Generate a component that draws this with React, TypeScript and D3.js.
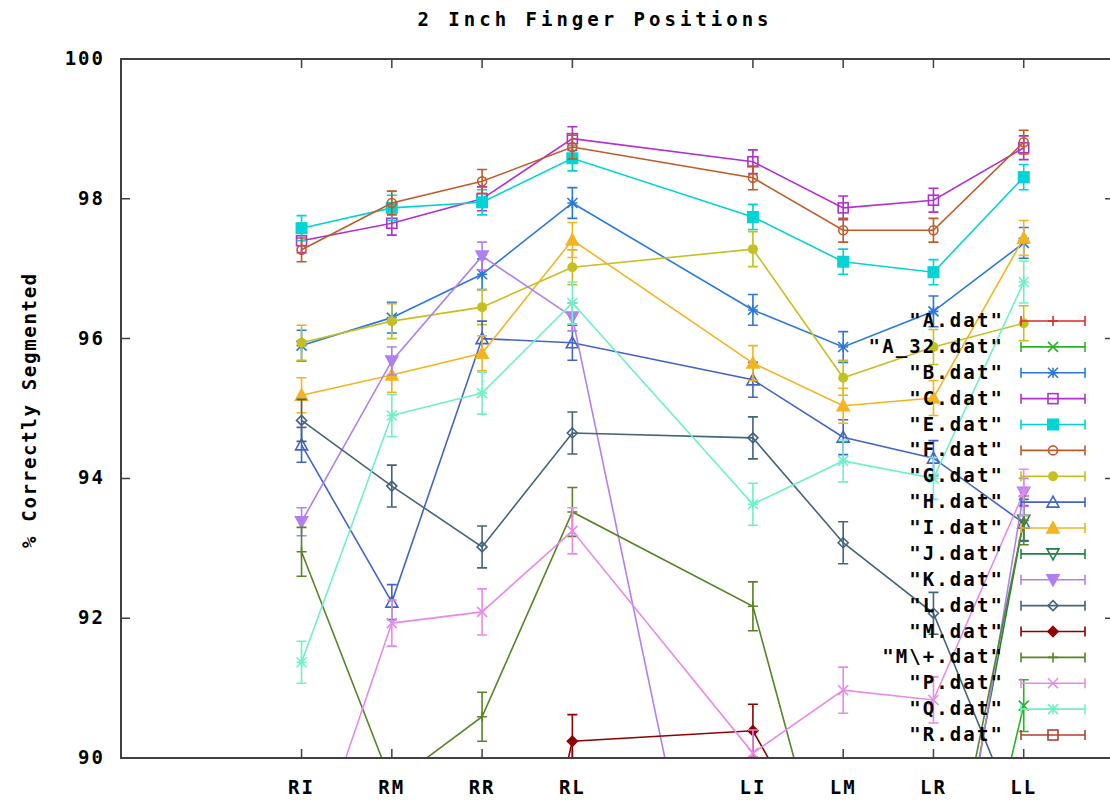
import React from 'react';
import * as d3 from 'd3';

// finger positions along the x axis
const positions = ['RI', 'RM', 'RR', 'RL', 'LI', 'LM', 'LR', 'LL'];
const positionX = [1, 2, 3, 4, 6, 7, 8, 9];
const yTicks = [90, 92, 94, 96, 98, 100];

// % correctly segmented per file (values under 90 fall outside the plot)
const aDat = [88.6, 88.9, 89.1, 89.4, 88.8, 88.2, 88.5, 89.2];
const a32Dat = [88.0, 87.5, 87.0, 88.5, 87.2, 86.0, 85.3, 90.75];
const bDat = [95.9, 96.3, 96.92, 97.94, 96.41, 95.88, 96.39, 97.37];
const cDat = [97.4, 97.65, 98.0, 98.86, 98.53, 97.87, 97.98, 98.73];
const eDat = [97.58, 97.87, 97.95, 98.58, 97.74, 97.1, 96.95, 98.31];
const fDat = [97.27, 97.94, 98.25, 98.74, 98.3, 97.55, 97.55, 98.81];
const gDat = [95.94, 96.25, 96.45, 97.02, 97.28, 95.44, 95.88, 96.22];
const hDat = [94.48, 92.23, 96.0, 95.94, 95.41, 94.59, 94.29, 93.36];
const iDat = [95.19, 95.48, 95.79, 97.41, 95.65, 95.04, 95.15, 97.44];
const jDat = [87.5, 87.0, 86.5, 88.0, 87.0, 86.0, 86.5, 93.4];
const kDat = [93.38, 95.68, 97.18, 96.31, 84.0, 85.0, 86.0, 93.8];
const lDat = [94.83, 93.89, 93.02, 94.65, 94.58, 93.08, 92.07, 88.9];
const mDat = [84.0, 84.5, 84.8, 90.24, 90.39, 88.1, 87.0, 87.5];
const mPlusDat = [92.95, 89.63, 90.59, 93.52, 92.17, 87.4, 87.0, 93.4];
const pDat = [88.15, 91.93, 92.09, 93.25, 90.07, 90.97, 90.83, 93.8];
const qDat = [91.37, 94.9, 95.22, 96.51, 93.63, 94.25, 94.0, 96.81];
const rDat = [87.0, 87.5, 88.0, 88.5, 87.5, 87.0, 87.2, 88.0];

// error bar half widths per file
const errors = [0.3, 0.37, 0.22, 0.17, 0.18, 0.17, 0.25, 0.25, 0.25, 0.3, 0.2, 0.3, 0.38, 0.35, 0.33, 0.3, 0.3];

const fileNames = [
  '"A.dat"', '"A_32.dat"', '"B.dat"', '"C.dat"', '"E.dat"', '"F.dat"', '"G.dat"', '"H.dat"',
  '"I.dat"', '"J.dat"', '"K.dat"', '"L.dat"', '"M.dat"', '"M\\+.dat"', '"P.dat"', '"Q.dat"', '"R.dat"'
];
const fileValues = [aDat, a32Dat, bDat, cDat, eDat, fDat, gDat, hDat, iDat, jDat, kDat, lDat, mDat, mPlusDat, pDat, qDat, rDat];

const colors = [
  '#e02828', '#28b428', '#2878e0', '#b030d0', '#00d4d4', '#c05a28', '#c4c020', '#4464c4',
  '#f4b420', '#208048', '#b080f0', '#44647c', '#900000', '#588428', '#e88ae8', '#70f0c8', '#b04030'
];
// gnuplot point types
const markers = ['plus', 'cross', 'star', 'square', 'squareF', 'circle', 'circleF', 'tri', 'triF', 'itri', 'itriF', 'diamond', 'diamondF', 'plus', 'cross', 'star', 'square'];

const W = 1110;
const H = 800;
const FONT = '"DejaVu Sans Mono", monospace';
const AXIS = '#404040';

const x = d3.scaleLinear().domain([-1, 10]).range([121, 1114]);
const y = d3.scaleLinear().domain([90, 100]).range([758, 59]);

function Marker({ type, cx, cy, color }: { type: string; cx: number; cy: number; color: string }) {
  const s = 5;
  const sw = 1.6;
  switch (type) {
    case 'plus':
      return <path d={`M${cx - s},${cy}H${cx + s}M${cx},${cy - s}V${cy + s}`} stroke={color} strokeWidth={sw} />;
    case 'cross':
      return <path d={`M${cx - s},${cy - s}L${cx + s},${cy + s}M${cx - s},${cy + s}L${cx + s},${cy - s}`} stroke={color} strokeWidth={sw} />;
    case 'star':
      return <path d={`M${cx - s},${cy}H${cx + s}M${cx},${cy - s}V${cy + s}M${cx - s},${cy - s}L${cx + s},${cy + s}M${cx - s},${cy + s}L${cx + s},${cy - s}`} stroke={color} strokeWidth={sw} />;
    case 'square':
      return <rect x={cx - s} y={cy - s} width={2 * s} height={2 * s} fill="none" stroke={color} strokeWidth={sw} />;
    case 'squareF':
      return <rect x={cx - s - 1} y={cy - s - 1} width={2 * s + 2} height={2 * s + 2} fill={color} />;
    case 'circle':
      return <circle cx={cx} cy={cy} r={s - 0.5} fill="none" stroke={color} strokeWidth={sw} />;
    case 'circleF':
      return <circle cx={cx} cy={cy} r={s} fill={color} />;
    case 'tri':
    case 'triF':
      return <path d={`M${cx},${cy - s - 1}L${cx + s + 1},${cy + s}L${cx - s - 1},${cy + s}Z`} fill={type === 'triF' ? color : 'none'} stroke={color} strokeWidth={sw} />;
    case 'itri':
    case 'itriF':
      return <path d={`M${cx},${cy + s + 1}L${cx + s + 1},${cy - s}L${cx - s - 1},${cy - s}Z`} fill={type === 'itriF' ? color : 'none'} stroke={color} strokeWidth={sw} />;
    case 'diamond':
    case 'diamondF':
      return <path d={`M${cx},${cy - s}L${cx + s},${cy}L${cx},${cy + s}L${cx - s},${cy}Z`} fill={type === 'diamondF' ? color : 'none'} stroke={color} strokeWidth={sw} />;
    default:
      return null;
  }
}

export default function App() {
  const line = d3.line<number>().x((_, i) => x(positionX[i])).y(d => y(d));
  const legendY = (i: number) => 321 + i * 25.875;

  return (
    <svg width={W} height={H} style={{ position: 'absolute', left: 0, top: 0, background: 'white' }}
      fontFamily={FONT} fontWeight="bold">
      <defs>
        <clipPath id="plot-clip">
          <rect x={121} y={59} width={993} height={699} />
        </clipPath>
      </defs>
      <rect width={W} height={H} fill="white" />

      <text x={595} y={26} textAnchor="middle" fontSize={19} letterSpacing={4}>2 Inch Finger Positions</text>
      <text transform="translate(36,410) rotate(-90)" textAnchor="middle" fontSize={19} letterSpacing={1.7}>% Correctly Segmented</text>

      {/* ticks */}
      {yTicks.map(t => (
        <g key={t}>
          <path d={`M121,${y(t)}h9M1114,${y(t)}h-9`} stroke={AXIS} strokeWidth={1.5} />
          <text x={105} y={y(t) + 6} textAnchor="end" fontSize={19} letterSpacing={2}>{t}</text>
        </g>
      ))}
      {positions.map((p, i) => (
        <g key={p}>
          <path d={`M${x(positionX[i])},758v-9M${x(positionX[i])},59v9`} stroke={AXIS} strokeWidth={1.5} />
          <text x={x(positionX[i])} y={794} textAnchor="middle" fontSize={19} letterSpacing={2}>{p}</text>
        </g>
      ))}

      <g clipPath="url(#plot-clip)">
        {fileValues.map((vals, si) => (
          <g key={si}>
            <path d={line(vals) || ''} fill="none" stroke={colors[si]} strokeWidth={1.6} />
            {vals.map((v, i) => {
              const cx = x(positionX[i]);
              const e = errors[si];
              return (
                <g key={i}>
                  <path d={`M${cx},${y(v + e)}V${y(v - e)}M${cx - 5},${y(v + e)}h10M${cx - 5},${y(v - e)}h10`}
                    stroke={colors[si]} strokeWidth={1.6} fill="none" />
                  <Marker type={markers[si]} cx={cx} cy={y(v)} color={colors[si]} />
                </g>
              );
            })}
          </g>
        ))}
      </g>

      {/* legend */}
      {fileNames.map((name, i) => {
        const ly = legendY(i);
        return (
          <g key={name}>
            <text x={1004} y={ly + 6} textAnchor="end" fontSize={19} letterSpacing={2.1}>{name}</text>
            <path d={`M1021,${ly}H1085M1021,${ly - 5}v10M1085,${ly - 5}v10`} stroke={colors[i]} strokeWidth={1.6} />
            <Marker type={markers[i]} cx={1053} cy={ly} color={colors[i]} />
          </g>
        );
      })}

      <rect x={121} y={59} width={993} height={699} fill="none" stroke={AXIS} strokeWidth={2} />
    </svg>
  );
}
